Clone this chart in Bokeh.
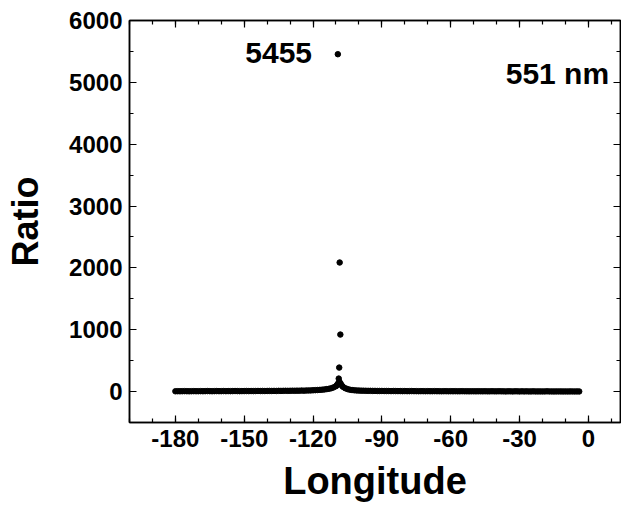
from bokeh.plotting import figure
from bokeh.models import LinearAxis, SingleIntervalTicker, Range1d, ColumnDataSource, CustomJSTickFormatter
from bokeh.core.properties import value
from bokeh.embed import file_html
from bokeh.resources import INLINE

# ---- data ----
lon = [-180, -179, -178, -177, -176, -175, -174, -173, -172, -171,
       -170, -169, -168, -167, -166, -165, -164, -163, -162, -161,
       -160, -159, -158, -157, -156, -155, -154, -153, -152, -151,
       -150, -149, -148, -147, -146, -145, -144, -143, -142, -141,
       -140, -139, -138, -137, -136, -135, -134, -133, -132, -131,
       -130, -129, -128, -127, -126, -125, -124, -123, -122, -121,
       -120, -119, -118, -117, -116, -115, -114, -113,
       -112, -111, -110, -109.5, -109, -108.5, -108, -107.5, -107, -106, -105, -104, -103, -102, -101,
       -100, -99, -98, -97, -96, -95, -94, -93, -92, -91,
       -90, -89, -88, -87, -86, -85, -84, -83, -82, -81,
       -80, -79, -78, -77, -76, -75, -74, -73, -72, -71,
       -70, -69, -68, -67, -66, -65, -64, -63, -62, -61,
       -60, -59, -58, -57, -56, -55, -54, -53, -52, -51,
       -50, -49, -48, -47, -46, -45, -44, -43, -42, -41,
       -40, -39, -38, -37, -36, -35, -34, -33, -32, -31,
       -30, -29, -28, -27, -26, -25, -24, -23, -22, -21,
       -20, -19, -18, -17, -16, -15, -14, -13, -12, -11,
       -10, -9, -8, -7, -6, -5, -4]
ratio = [5, 6, 5, 6, 7, 6, 5, 6, 7, 6,
         6, 7, 6, 7, 8, 7, 6, 7, 8, 7,
         7, 8, 7, 8, 7, 8, 9, 8, 7, 8,
         8, 9, 8, 9, 8, 9, 10, 9, 10, 9,
         10, 11, 10, 11, 10, 12, 11, 12, 13, 12,
         13, 14, 13, 15, 14, 16, 15, 17, 18, 19,
         21, 23, 25, 28, 31, 35, 40, 46,
         55, 68, 88, 110, 135, 160, 130, 100, 78, 55, 40, 31, 25, 21, 18,
         16, 15, 14, 13, 12, 12, 11, 11, 10, 10,
         10, 9, 9, 9, 8, 9, 8, 8, 8, 7,
         8, 7, 7, 8, 7, 7, 6, 7, 7, 6,
         7, 6, 6, 7, 6, 6, 5, 6, 6, 5,
         6, 5, 6, 5, 5, 6, 5, 5, 4, 5,
         5, 4, 5, 5, 4, 5, 4, 4, 5, 4,
         4, 5, 4, 4, 3, 4, 4, 3, 4, 4,
         3, 4, 3, 4, 3, 3, 4, 3, 3, 3,
         3, 3, 4, 3, 3, 2, 3, 3, 3, 2,
         3, 2, 3, 3, 2, 3, 2]
peak_lon = [-109.2, -108.4, -108.1, -108.6, -108.8]
peak_ratio = [5455, 2087, 922, 388, 210]

label_text = ["5455", "551 nm"]
label_x = [-135, -13.5]
label_y = [5470, 5150]

x_ticks_interval = 30
y_ticks_interval = 1000

FONT = "Liberation Sans"

p = figure(width=621, height=507, output_backend="svg", toolbar_location=None,
           x_range=Range1d(-200, 14), y_range=Range1d(-500, 6000),
           min_border_left=129, min_border_top=20, min_border_right=1, min_border_bottom=85,
           x_axis_label="Longitude", y_axis_label="Ratio")

p.xgrid.visible = False
p.ygrid.visible = False
p.outline_line_color = "black"
p.outline_line_width = 1.5
p.background_fill_color = "white"
p.border_fill_color = "white"

src = ColumnDataSource(dict(x=lon, y=ratio))
p.scatter("x", "y", source=src, size=5.5, color="black")
p.scatter(peak_lon, peak_ratio, size=5.5, color="black")

p.text(x=label_x, y=label_y, text=label_text, text_font=value(FONT), text_font_style="bold",
       text_font_size="30px", text_align="center", text_baseline="middle", text_color="black")

def style_axis(ax, ticker, show_labels):
    ax.ticker = ticker
    ax.axis_line_color = "black"
    ax.axis_line_width = 1.5
    ax.major_tick_in = 7
    ax.major_tick_out = 0
    ax.minor_tick_in = 4
    ax.minor_tick_out = 0
    ax.major_tick_line_color = "black"
    ax.minor_tick_line_color = "black"
    ax.major_tick_line_width = 1.2
    ax.minor_tick_line_width = 1.2
    if show_labels:
        ax.formatter = CustomJSTickFormatter(code="return tick.toString()")
        ax.major_label_text_font = FONT
        ax.major_label_text_font_style = "bold"
        ax.major_label_text_font_size = "24px"
        ax.major_label_text_color = "black"
        ax.axis_label_text_font = FONT
        ax.axis_label_text_font_style = "bold"
        ax.axis_label_text_font_size = "38px"
        ax.axis_label_text_color = "black"
    else:
        ax.formatter = CustomJSTickFormatter(code="return ''")
        ax.major_label_standoff = 0

xt = SingleIntervalTicker(interval=x_ticks_interval, num_minor_ticks=3)
yt = SingleIntervalTicker(interval=y_ticks_interval, num_minor_ticks=2)

style_axis(p.xaxis[0], xt, True)
style_axis(p.yaxis[0], yt, True)
p.xaxis[0].major_label_standoff = 7
p.xaxis[0].axis_label_standoff = 10
p.yaxis[0].major_label_standoff = 7
p.yaxis[0].axis_label_standoff = 20
p.yaxis[0].axis_label_text_font_size = "36px"

top = LinearAxis()
style_axis(top, SingleIntervalTicker(interval=x_ticks_interval, num_minor_ticks=3), False)
p.add_layout(top, "above")
right = LinearAxis()
style_axis(right, SingleIntervalTicker(interval=y_ticks_interval, num_minor_ticks=2), False)
p.add_layout(right, "right")

open("out.html", "w").write(file_html(p, INLINE))
